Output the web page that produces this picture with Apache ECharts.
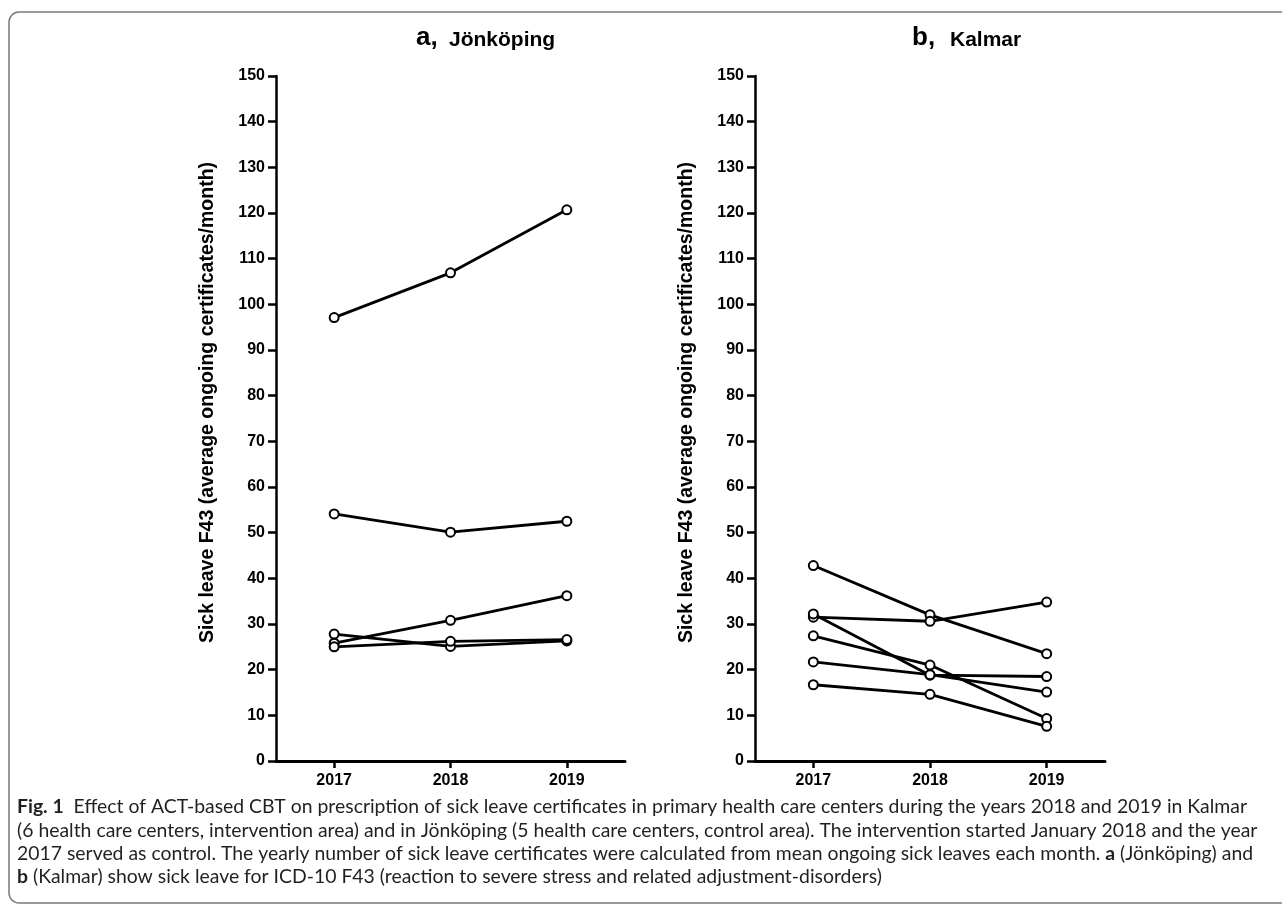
<!DOCTYPE html>
<html>
<head>
<meta charset="utf-8">
<script src="https://cdn.jsdelivr.net/npm/echarts@6/dist/echarts.min.js"></script>
<style>
html,body{margin:0;padding:0;background:#fff;}
#chart{width:1282px;height:904px;}
</style>
</head>
<body>
<div id="chart"></div>
<script>
// ---- data ----
const years = ['2017', '2018', '2019'];
const jonkopingA = [97.1, 106.9, 120.7];
const jonkopingB = [54.1, 50.1, 52.5];
const jonkopingC = [25.8, 30.8, 36.2];
const jonkopingD = [27.8, 25.1, 26.3];
const jonkopingE = [25.0, 26.2, 26.6];

const kalmarA = [42.8, 32.0, 23.5];
const kalmarB = [31.5, 30.6, 34.8];
const kalmarC = [32.2, 18.8, 18.5];
const kalmarD = [27.4, 21.0, 9.3];
const kalmarE = [21.7, 18.9, 15.1];
const kalmarF = [16.7, 14.6, 7.6];

const yMin = 0, yMax = 150, yStep = 10;
const yAxisName = 'Sick leave F43 (average ongoing certificates/month)';
const panelLetters = ['a,', 'b,'];
const panelNames = ['Jönköping', 'Kalmar'];

const captionLines = [
  '{b|Fig. 1}  Effect of ACT-based CBT on prescription of sick leave certificates in primary health care centers during the years 2018 and 2019 in Kalmar',
  '(6 health care centers, intervention area) and in Jönköping (5 health care centers, control area). The intervention started January 2018 and the year',
  '2017 served as control. The yearly number of sick leave certificates were calculated from mean ongoing sick leaves each month. {b|a} (Jönköping) and',
  '{b|b} (Kalmar) show sick leave for ICD-10 F43 (reaction to severe stress and related adjustment-disorders)'
];

const leftSeries = [jonkopingA, jonkopingB, jonkopingC, jonkopingD, jonkopingE];
const rightSeries = [kalmarA, kalmarB, kalmarC, kalmarD, kalmarE, kalmarF];

// ---- chart ----
const chart = echarts.init(document.getElementById('chart'), null, {renderer: 'canvas'});
const FONT = '"Liberation Sans", Arial, sans-serif';

function xAxis(gi) {
  return {
    gridIndex: gi, type: 'category', data: years, boundaryGap: true,
    axisLine: {show: true, onZero: false, lineStyle: {color: '#000', width: 3}},
    axisTick: {show: true, alignWithLabel: true, length: 7, lineStyle: {color: '#000', width: 2.5}},
    axisLabel: {color: '#000', fontFamily: FONT, fontWeight: 'bold', fontSize: 16, margin: 12},
    splitLine: {show: false}
  };
}
function yAxis(gi) {
  return {
    gridIndex: gi, type: 'value', min: yMin, max: yMax, interval: yStep,
    name: yAxisName, nameLocation: 'middle', nameGap: 58,
    nameTextStyle: {color: '#000', fontFamily: FONT, fontWeight: 'bold', fontSize: 19.5, padding: [0, 0, 0, 32]},
    axisLine: {show: true, lineStyle: {color: '#000', width: 2.5}},
    axisTick: {show: true, length: 8, lineStyle: {color: '#000', width: 2.5}},
    axisLabel: {color: '#000', fontFamily: FONT, fontWeight: 'bold', fontSize: 16, margin: 11},
    splitLine: {show: false}
  };
}
function mkSeries(arr, gi) {
  return arr.map(d => ({
    type: 'line', xAxisIndex: gi, yAxisIndex: gi, data: d,
    symbol: 'emptyCircle', symbolSize: 9,
    lineStyle: {color: '#000', width: 2.8},
    itemStyle: {color: '#000', borderColor: '#000', borderWidth: 3},
    emphasis: {disabled: true}
  }));
}

const graphics = [
  {type: 'rect', shape: {x: 9, y: 12, width: 1300, height: 891, r: 10},
   style: {fill: 'none', stroke: '#7a7a7a', lineWidth: 1.5}, z: 0},
  {type: 'text', x: 416, y: 38, style: {text: panelLetters[0], font: 'bold 26px ' + FONT, fill: '#000', verticalAlign: 'middle'}},
  {type: 'text', x: 449, y: 40, style: {text: panelNames[0], font: 'bold 21px ' + FONT, fill: '#000', verticalAlign: 'middle'}},
  {type: 'text', x: 912, y: 38, style: {text: panelLetters[1], font: 'bold 26px ' + FONT, fill: '#000', verticalAlign: 'middle'}},
  {type: 'text', x: 950, y: 40, style: {text: panelNames[1], font: 'bold 21px ' + FONT, fill: '#000', verticalAlign: 'middle'}}
];
const capY = [807, 831, 854, 877];
captionLines.forEach((t, i) => {
  graphics.push({type: 'text', x: 17, y: capY[i], style: {
    text: t, fill: '#231f20', fontFamily: 'Lato', fontSize: 19.4, verticalAlign: 'middle',
    rich: {b: {fontFamily: 'Lato', fontWeight: 'bold', fontSize: 19.4, fill: '#231f20'}}
  }});
});

chart.setOption({
  animation: false,
  backgroundColor: '#fff',
  grid: [
    {left: 276, top: 76, width: 349, height: 685},
    {left: 755, top: 76, width: 350, height: 685}
  ],
  xAxis: [xAxis(0), xAxis(1)],
  yAxis: [yAxis(0), yAxis(1)],
  series: mkSeries(leftSeries, 0).concat(mkSeries(rightSeries, 1)),
  graphic: graphics
});
</script>
</body>
</html>
